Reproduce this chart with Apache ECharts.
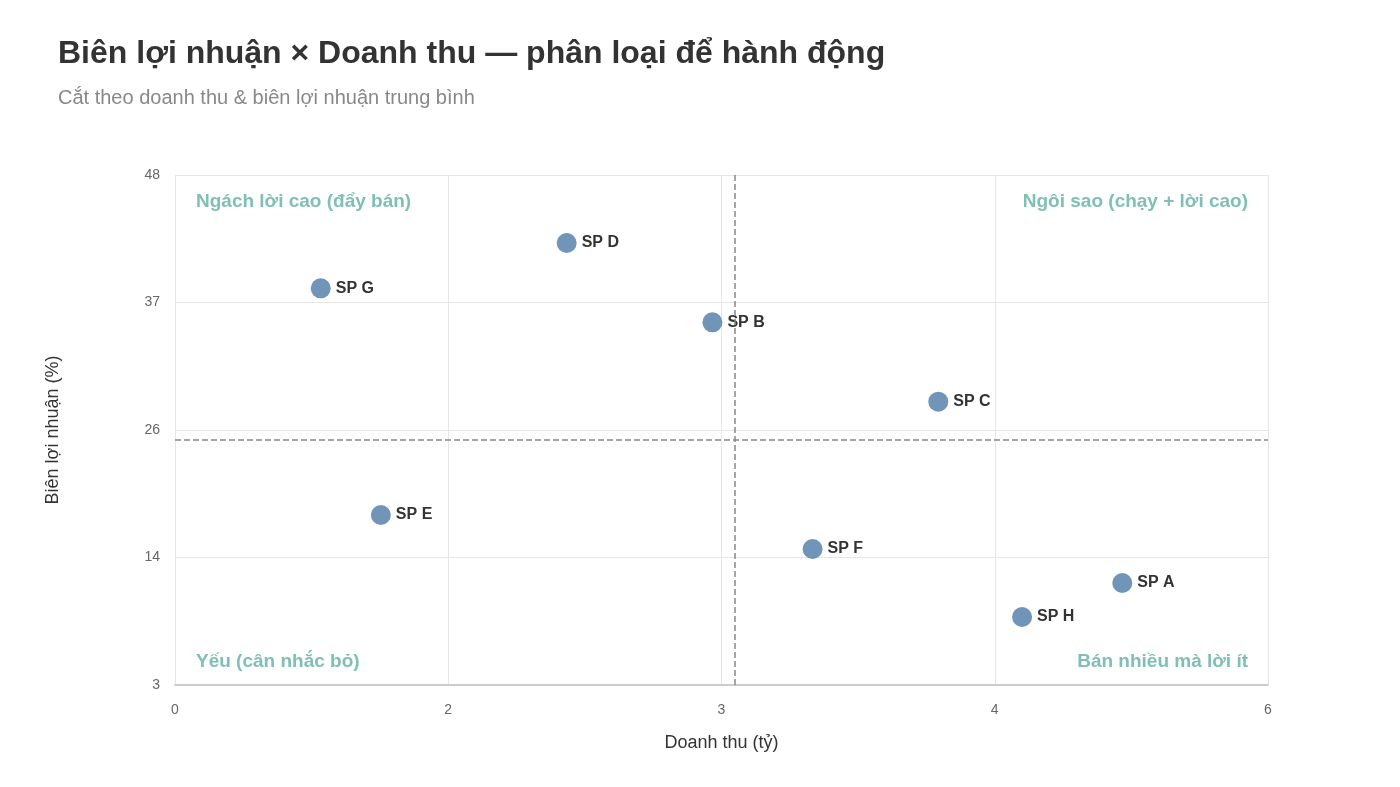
<!DOCTYPE html>
<html>
<head>
<meta charset="utf-8">
<script src="https://cdn.jsdelivr.net/npm/echarts@6/dist/echarts.min.js"></script>
<style>
html,body{margin:0;padding:0;background:#fff;}
#chart{width:1400px;height:787px;}
</style>
</head>
<body>
<div id="chart"></div>
<script>
const products = ['SP A','SP B','SP C','SP D','SP E','SP F','SP G','SP H'];
const revenue = [5.2, 2.95, 4.19, 2.15, 1.13, 3.5, 0.8, 4.65];
const margin = [12, 35, 28, 42, 18, 15, 38, 9];
const xTickLabels = ['0','2','3','4','6'];
const yTickLabels = ['3','14','26','37','48'];
const quadrantLabels = ['Ngách lời cao (đẩy bán)','Ngôi sao (chạy + lời cao)','Yếu (cân nhắc bỏ)','Bán nhiều mà lời ít'];

const meanX = revenue.reduce((a,b)=>a+b,0)/revenue.length;
const meanY = margin.reduce((a,b)=>a+b,0)/margin.length;
const points = products.map((p,i)=>({name:p, value:[revenue[i], margin[i]]}));

const chart = echarts.init(document.getElementById('chart'));
const font = '"Liberation Sans", Arial, Helvetica, sans-serif';
const qStyle = {fontFamily: font, fontSize: 19, fontWeight: 'bold', fill: '#7fbfb5'};

chart.setOption({
  backgroundColor: '#fff',
  textStyle: {fontFamily: font},
  title: {
    text: 'Biên lợi nhuận × Doanh thu — phân loại để hành động',
    subtext: 'Cắt theo doanh thu & biên lợi nhuận trung bình',
    left: 53, top: 33, itemGap: 18,
    textStyle: {fontSize: 32, fontWeight: 'bold', color: '#333', fontFamily: font},
    subtextStyle: {fontSize: 20, color: '#888', fontFamily: font}
  },
  grid: {left: 175, right: 132, top: 175, bottom: 102},
  xAxis: {
    type: 'value', min: 0, max: 6, interval: 1.5,
    name: 'Doanh thu (tỷ)', nameLocation: 'middle', nameGap: 49,
    nameTextStyle: {fontSize: 18, color: '#333', fontFamily: font},
    axisLine: {show: true, lineStyle: {color: '#ccc', width: 2}},
    axisTick: {show: false},
    axisLabel: {fontSize: 14, color: '#666', margin: 18, fontFamily: font, formatter: (v, i) => xTickLabels[i]},
    splitLine: {show: true, lineStyle: {color: '#e6e6e6', width: 1}}
  },
  yAxis: {
    type: 'value', min: 3, max: 48, interval: 11.25,
    name: 'Biên lợi nhuận (%)', nameLocation: 'middle', nameGap: 113, nameRotate: 90,
    nameTextStyle: {fontSize: 18, color: '#333', fontFamily: font},
    axisLine: {show: false},
    axisTick: {show: false},
    axisLabel: {fontSize: 14, color: '#666', margin: 15, fontFamily: font, formatter: (v, i) => yTickLabels[i]},
    splitLine: {show: true, lineStyle: {color: '#e6e6e6', width: 1}}
  },
  graphic: [
    {type: 'text', left: 196, top: 192, style: Object.assign({text: quadrantLabels[0]}, qStyle)},
    {type: 'text', right: 152, top: 192, style: Object.assign({text: quadrantLabels[1]}, qStyle)},
    {type: 'text', left: 196, top: 652, style: Object.assign({text: quadrantLabels[2]}, qStyle)},
    {type: 'text', right: 152, top: 652, style: Object.assign({text: quadrantLabels[3]}, qStyle)}
  ],
  series: [{
    type: 'scatter',
    data: points,
    symbolSize: 20,
    itemStyle: {color: 'rgba(78,121,167,0.8)', opacity: 1},
    label: {
      show: true, position: 'right', distance: 5,
      formatter: p => p.name,
      fontSize: 16, fontWeight: 'bold', color: '#333', fontFamily: font
    },
    markLine: {
      silent: true, symbol: 'none',
      label: {show: false},
      lineStyle: {color: '#888', type: 'dashed', width: 1.5},
      data: [{xAxis: meanX}, {yAxis: meanY}]
    }
  }]
});
</script>
</body>
</html>
